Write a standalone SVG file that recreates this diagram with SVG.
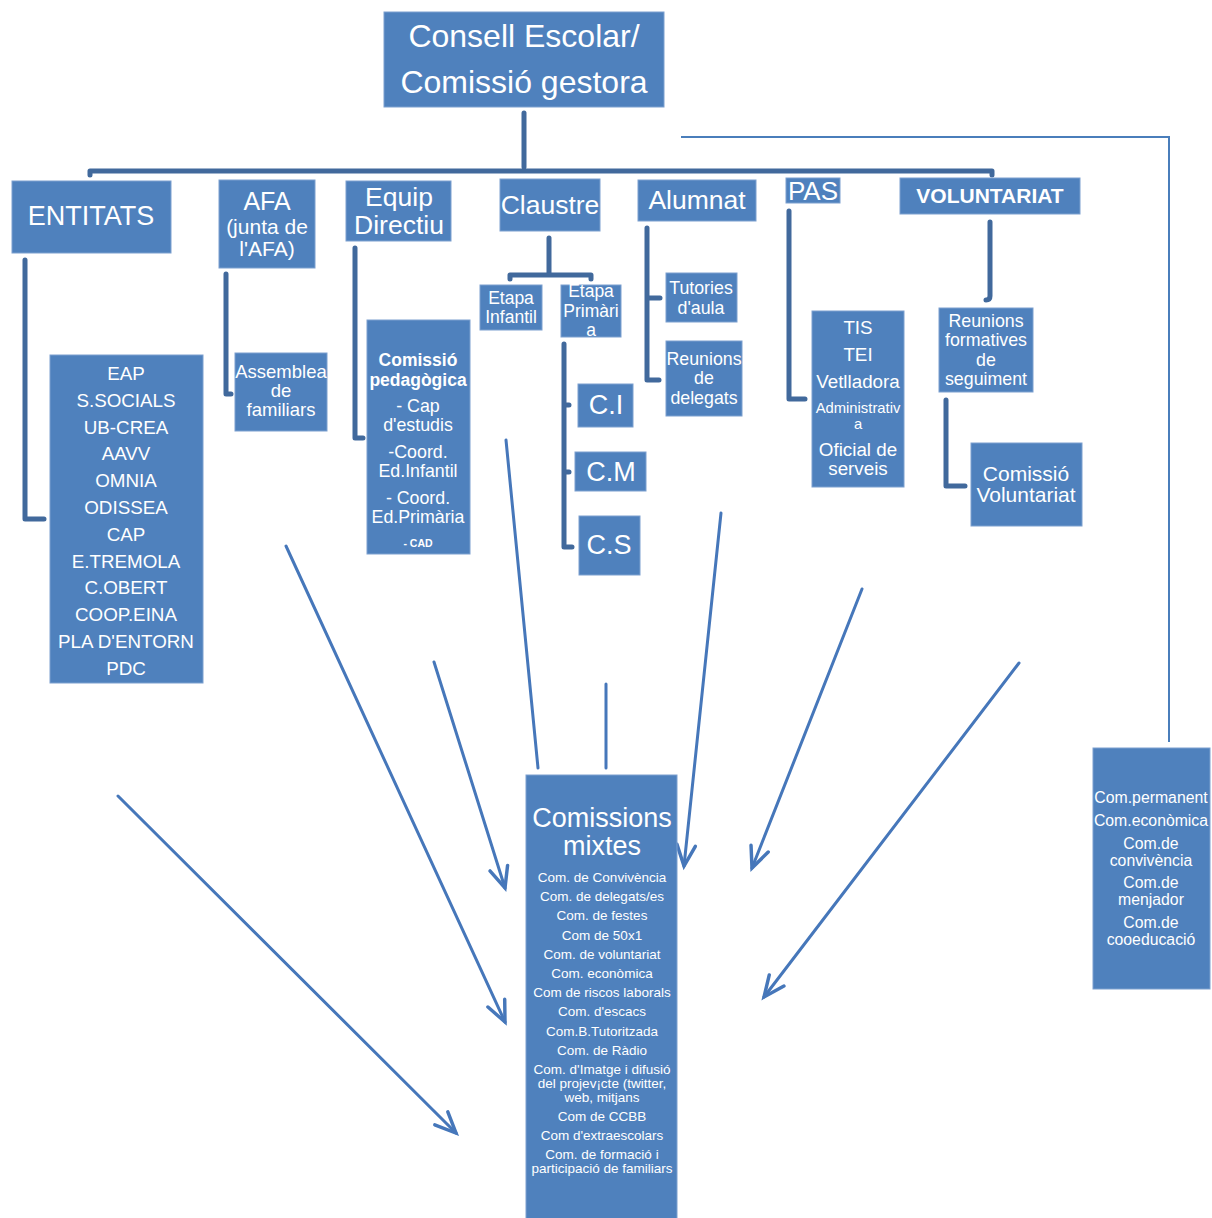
<svg xmlns="http://www.w3.org/2000/svg" width="1212" height="1218" viewBox="0 0 1212 1218">
<defs>
<style>
.box{fill:#4F81BD;stroke:#7CA0CF;stroke-width:1}
.t{font-family:"Liberation Sans",Arial,sans-serif;fill:#fff;text-anchor:middle}
.b{font-weight:bold}
.tree{fill:none;stroke:#41699C;stroke-width:5;stroke-linecap:round;stroke-linejoin:round}
.thin{fill:none;stroke:#4A7EBB;stroke-width:2}
.arr{fill:none;stroke:#4677BA;stroke-width:3;stroke-linecap:round}
</style>
<marker id="ah" markerUnits="userSpaceOnUse" markerWidth="30" markerHeight="30" viewBox="-22 -12 26 24" refX="0" refY="0" orient="auto">
<path d="M-18,-8 L0,0 L-18,8" fill="none" stroke="#4677BA" stroke-width="3" stroke-linecap="round"/>
</marker>
</defs>
<rect width="1212" height="1218" fill="#fff"/>
<g id="connectors">
<path class="tree" d="M524,113 V167"/>
<path class="tree" d="M90,175 V171 H992 V175"/>
<path class="thin" d="M681,137 H1169 V742"/>
<path class="tree" d="M25,260 V519 H44"/>
<path class="tree" d="M226,274 V394 H231"/>
<path class="tree" d="M355,248 V438 H363"/>
<path class="tree" d="M549,238 V274"/>
<path class="tree" d="M510,279 V275 H591 V279"/>
<path class="tree" d="M564,344 V547 H572 M564,405 H569 M564,472 H569"/>
<path class="tree" d="M647,228 V380 H659 M647,298 H660"/>
<path class="tree" d="M789,211 V399 H805"/>
<path class="tree" d="M990,222 V296 Q990,300 986,300"/>
<path class="tree" d="M946,400 V486 H965"/>
<path class="arr" d="M118,796 L456,1133" marker-end="url(#ah)"/>
<path class="arr" d="M286,546 L505,1022" marker-end="url(#ah)"/>
<path class="arr" d="M434,662 L505,888" marker-end="url(#ah)"/>
<path class="arr" d="M506,440 L538,768"/>
<path class="arr" d="M606,684 L606,768"/>
<path class="arr" d="M721,513 L684,866" marker-end="url(#ah)"/>
<path class="arr" d="M862,589 L752,868" marker-end="url(#ah)"/>
<path class="arr" d="M1019,663 L764,997" marker-end="url(#ah)"/>
</g>
<g id="consell">
<rect class="box" x="384" y="12" width="280" height="95"/>
<text class="t" x="524" y="47" font-size="32">Consell Escolar/</text>
<text class="t" x="524" y="93" font-size="32">Comissió gestora</text>
</g>
<g id="entitats">
<rect class="box" x="12" y="181" width="159" height="72"/>
<text class="t" x="91" y="225" font-size="27">ENTITATS</text>
</g>
<g id="afa">
<rect class="box" x="219" y="180" width="96" height="88"/>
<text class="t" x="267" y="210" font-size="25">AFA</text>
<text class="t" x="267" y="234" font-size="21">(junta de</text>
<text class="t" x="267" y="256" font-size="21">l'AFA)</text>
</g>
<g id="equip">
<rect class="box" x="346" y="181" width="105" height="60"/>
<text class="t" x="399" y="206" font-size="26.5">Equip</text>
<text class="t" x="399" y="234" font-size="26.5">Directiu</text>
</g>
<g id="claustre">
<rect class="box" x="500" y="179" width="100" height="52"/>
<text class="t" x="550" y="214" font-size="26.5">Claustre</text>
</g>
<g id="alumnat">
<rect class="box" x="638" y="180" width="118" height="41"/>
<text class="t" x="697" y="209" font-size="26.5">Alumnat</text>
</g>
<g id="pas">
<rect class="box" x="786" y="178" width="54" height="25"/>
<text class="t" x="813" y="200" font-size="26">PAS</text>
</g>
<g id="voluntariat">
<rect class="box" x="900" y="178" width="180" height="36"/>
<text class="t b" x="990" y="203" font-size="21">VOLUNTARIAT</text>
</g>
<g id="llista-entitats">
<rect class="box" x="50" y="355" width="153" height="328"/>
<g class="t" font-size="18.8">
<text x="126" y="380">EAP</text>
<text x="126" y="407">S.SOCIALS</text>
<text x="126" y="434">UB-CREA</text>
<text x="126" y="460">AAVV</text>
<text x="126" y="487">OMNIA</text>
<text x="126" y="514">ODISSEA</text>
<text x="126" y="541">CAP</text>
<text x="126" y="568">E.TREMOLA</text>
<text x="126" y="594">C.OBERT</text>
<text x="126" y="621">COOP.EINA</text>
<text x="126" y="648">PLA D'ENTORN</text>
<text x="126" y="675">PDC</text>
</g>
</g>
<g id="assemblea">
<rect class="box" x="235" y="353" width="92" height="78"/>
<g class="t" font-size="18.5">
<text x="281" y="378">Assemblea</text>
<text x="281" y="397">de</text>
<text x="281" y="416">familiars</text>
</g>
</g>
<g id="comissio-pedagogica">
<rect class="box" x="367" y="320" width="103" height="234"/>
<text class="t b" x="418" y="366" font-size="17.5">Comissió</text>
<text class="t b" x="418" y="386" font-size="17.5">pedagògica</text>
<g class="t" font-size="17.8">
<text x="418" y="412">- Cap</text>
<text x="418" y="431">d'estudis</text>
<text x="418" y="458">-Coord.</text>
<text x="418" y="477">Ed.Infantil</text>
<text x="418" y="504">- Coord.</text>
<text x="418" y="523">Ed.Primària</text>
</g>
<text class="t b" x="418" y="547" font-size="10.5">- CAD</text>
</g>
<g id="etapa-infantil">
<rect class="box" x="480" y="285" width="62" height="45"/>
<text class="t" x="511" y="304" font-size="17.5">Etapa</text>
<text class="t" x="511" y="323" font-size="17.5">Infantil</text>
</g>
<g id="etapa-primaria">
<rect class="box" x="561" y="285" width="60" height="52"/>
<text class="t" x="591" y="297" font-size="17.5">Etapa</text>
<text class="t" x="591" y="317" font-size="17.5">Primàri</text>
<text class="t" x="591" y="336" font-size="17.5">a</text>
</g>
<g id="ci">
<rect class="box" x="578" y="384" width="55" height="43"/>
<text class="t" x="606" y="414" font-size="27">C.I</text>
</g>
<g id="cm">
<rect class="box" x="575" y="452" width="71" height="39"/>
<text class="t" x="611" y="481" font-size="27">C.M</text>
</g>
<g id="cs">
<rect class="box" x="579" y="516" width="61" height="59"/>
<text class="t" x="609" y="554" font-size="27">C.S</text>
</g>
<g id="tutories">
<rect class="box" x="666" y="273" width="71" height="49"/>
<text class="t" x="701" y="294" font-size="17.8">Tutories</text>
<text class="t" x="701" y="314" font-size="17.8">d'aula</text>
</g>
<g id="reunions-delegats">
<rect class="box" x="666" y="341" width="76" height="75"/>
<text class="t" x="704" y="365" font-size="17.8">Reunions</text>
<text class="t" x="704" y="384" font-size="17.8">de</text>
<text class="t" x="704" y="404" font-size="17.8">delegats</text>
</g>
<g id="personal">
<rect class="box" x="812" y="311" width="92" height="176"/>
<g class="t" font-size="18.8">
<text x="858" y="334">TIS</text>
<text x="858" y="361">TEI</text>
<text x="858" y="388">Vetlladora</text>
<text x="858" y="413" font-size="14.8">Administrativ</text>
<text x="858" y="429" font-size="14.8">a</text>
<text x="858" y="456">Oficial de</text>
<text x="858" y="475">serveis</text>
</g>
</g>
<g id="reunions-formatives">
<rect class="box" x="939" y="308" width="94" height="84"/>
<g class="t" font-size="17.8">
<text x="986" y="327">Reunions</text>
<text x="986" y="346">formatives</text>
<text x="986" y="366">de</text>
<text x="986" y="385">seguiment</text>
</g>
</g>
<g id="comissio-voluntariat">
<rect class="box" x="971" y="443" width="111" height="83"/>
<text class="t" x="1026" y="481" font-size="21">Comissió</text>
<text class="t" x="1026" y="502" font-size="21">Voluntariat</text>
</g>
<g id="comissions-mixtes">
<rect class="box" x="526" y="775" width="151" height="445"/>
<text class="t" x="602" y="827" font-size="27">Comissions</text>
<text class="t" x="602" y="855" font-size="27">mixtes</text>
<g class="t" font-size="13.5">
<text x="602" y="882">Com. de Convivència</text>
<text x="602" y="901">Com. de delegats/es</text>
<text x="602" y="920">Com. de festes</text>
<text x="602" y="940">Com de 50x1</text>
<text x="602" y="959">Com. de voluntariat</text>
<text x="602" y="978">Com. econòmica</text>
<text x="602" y="997">Com de riscos laborals</text>
<text x="602" y="1016">Com. d'escacs</text>
<text x="602" y="1036">Com.B.Tutoritzada</text>
<text x="602" y="1055">Com. de Ràdio</text>
<text x="602" y="1074">Com. d'Imatge i difusió</text>
<text x="602" y="1088">del projev¡cte (twitter,</text>
<text x="602" y="1102">web, mitjans</text>
<text x="602" y="1121">Com de CCBB</text>
<text x="602" y="1140">Com d'extraescolars</text>
<text x="602" y="1159">Com. de formació i</text>
<text x="602" y="1173">participació de familiars</text>
</g>
</g>
<g id="comissions-consell">
<rect class="box" x="1093" y="748" width="117" height="241"/>
<g class="t" font-size="15.8">
<text x="1151" y="803">Com.permanent</text>
<text x="1151" y="826">Com.econòmica</text>
<text x="1151" y="849">Com.de</text>
<text x="1151" y="866">convivència</text>
<text x="1151" y="888">Com.de</text>
<text x="1151" y="905">menjador</text>
<text x="1151" y="928">Com.de</text>
<text x="1151" y="945">cooeducació</text>
</g>
</g>
</svg>
